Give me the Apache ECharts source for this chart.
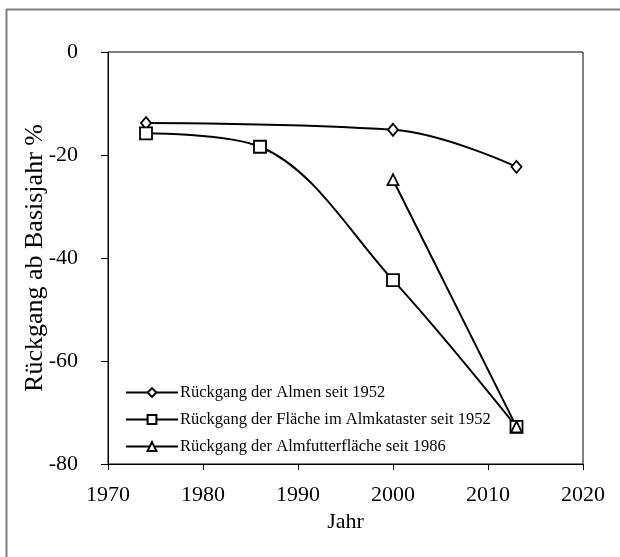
<!DOCTYPE html>
<html>
<head>
<meta charset="utf-8">
<script src="https://cdn.jsdelivr.net/npm/echarts@6/dist/echarts.min.js"></script>
<style>
  html, body { margin: 0; padding: 0; background: #fff; }
  #chart { width: 620px; height: 557px; }
</style>
</head>
<body>
<div id="chart"></div>
<script>
// Daten
const almenJahre = [1974, 2000, 2013]
const almenWerte = [-13.8, -15.1, -22.3]

const flaecheJahre = [1974, 1986, 2000, 2013]
const flaecheWerte = [-15.8, -18.4, -44.3, -72.8]

const futterJahre = [2000, 2013]
const futterWerte = [-24.8, -72.8]

const serienNamen = [
  'Rückgang der Almen seit 1952',
  'Rückgang der Fläche im Almkataster seit 1952',
  'Rückgang der Almfutterfläche seit 1986'
]

const toPairs = (xs, ys) => xs.map((x, i) => [x, ys[i]])

const font = 'Liberation Serif, Times New Roman, serif'

const chart = echarts.init(document.getElementById('chart'))
chart.setOption({
  backgroundColor: '#fff',
  animation: false,
  textStyle: { fontFamily: font, color: '#000' },
  graphic: [
    {
      type: 'rect',
      shape: { x: 6.5, y: 9.5, width: 700, height: 700 },
      style: { fill: 'none', stroke: '#808080', lineWidth: 2 },
      silent: true
    }
  ],
  grid: {
    left: 108,
    top: 52,
    right: 37,
    bottom: 93,
    show: true,
    borderColor: '#000',
    borderWidth: 1
  },
  legend: {
    orient: 'vertical',
    left: 120,
    top: 379,
    itemWidth: 52,
    itemHeight: 11,
    itemGap: 10,
    data: serienNamen,
    textStyle: { fontFamily: font, fontSize: 16.5, color: '#000', padding: [0, 0, 0, -3] }
  },
  xAxis: {
    type: 'value',
    min: 1970,
    max: 2020,
    interval: 10,
    name: 'Jahr',
    nameLocation: 'middle',
    nameGap: 47,
    nameMoveOverlap: false,
    nameTextStyle: { fontFamily: font, fontSize: 22, color: '#000' },
    axisLine: { onZero: false, lineStyle: { color: '#000', width: 1 } },
    axisTick: { show: true, length: 6, lineStyle: { color: '#000' } },
    axisLabel: {
      fontFamily: font, fontSize: 22, color: '#000', margin: 20,
      formatter: v => String(v)
    },
    splitLine: { show: false }
  },
  yAxis: {
    type: 'value',
    min: -80,
    max: 0,
    interval: 20,
    name: 'Rückgang ab Basisjahr %',
    nameLocation: 'middle',
    nameGap: 60,
    nameMoveOverlap: false,
    nameRotate: 90,
    nameTextStyle: { fontFamily: font, fontSize: 26, color: '#000' },
    axisLine: { show: true, onZero: false, lineStyle: { color: '#000', width: 1 } },
    axisTick: { show: true, length: 7, lineStyle: { color: '#000' } },
    axisLabel: { fontFamily: font, fontSize: 22, color: '#000', margin: 30 },
    splitLine: { show: false }
  },
  series: [
    {
      name: serienNamen[0],
      type: 'line',
      data: toPairs(almenJahre, almenWerte),
      smooth: 0.4,
      symbol: 'diamond',
      symbolSize: [10, 12],
      lineStyle: { color: '#000', width: 2 },
      itemStyle: { color: '#fff', borderColor: '#000', borderWidth: 1.8 }
    },
    {
      name: serienNamen[1],
      type: 'line',
      data: toPairs(flaecheJahre, flaecheWerte),
      smooth: 0.35,
      symbol: 'rect',
      symbolSize: 12,
      lineStyle: { color: '#000', width: 2 },
      itemStyle: { color: '#fff', borderColor: '#000', borderWidth: 1.8 }
    },
    {
      name: serienNamen[2],
      type: 'line',
      data: toPairs(futterJahre, futterWerte),
      symbol: 'triangle',
      symbolSize: 11,
      lineStyle: { color: '#000', width: 2 },
      itemStyle: { color: '#fff', borderColor: '#000', borderWidth: 1.8 }
    }
  ]
})
</script>
</body>
</html>
